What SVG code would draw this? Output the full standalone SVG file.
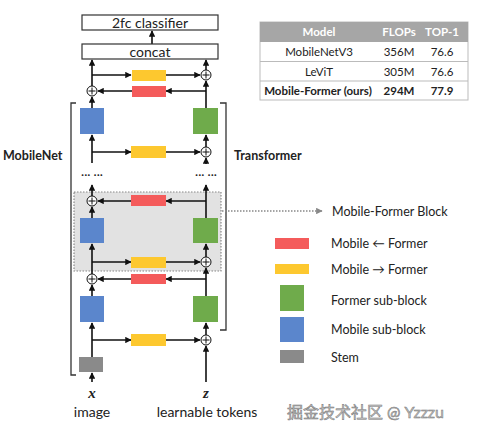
<svg xmlns="http://www.w3.org/2000/svg" width="489" height="436" viewBox="0 0 489 436">
<style>
text{font-family:Lato,"Liberation Sans","Noto Sans CJK SC",sans-serif;fill:#222}
.box{fill:#fff;stroke:#333;stroke-width:1.2}
.ln{stroke:#111;stroke-width:1.6;fill:none}
.arr{marker-end:url(#ah)}
.red{fill:#f45b5b}
.yel{fill:#fdc82f}
.grn{fill:#6fab4b}
.blu{fill:#5b86cc}
.stem{fill:#8a8a8a}
.plus circle{fill:#fff;stroke:#111;stroke-width:1}
.plus path{stroke:#111;stroke-width:1}
.t13{font-size:14px}
.lg{font-size:12.5px}
.tb{font-size:11.5px;text-anchor:middle}
</style>
<defs>
<marker id="ah" viewBox="0 0 10 10" refX="9" refY="5" markerWidth="4" markerHeight="4" orient="auto" markerUnits="strokeWidth">
<path d="M0,0 L10,5 L0,10 z" fill="#111"/>
</marker>
<marker id="ahg" viewBox="0 0 10 10" refX="9" refY="5" markerWidth="5" markerHeight="5" orient="auto" markerUnits="strokeWidth">
<path d="M0,0 L10,5 L0,10 z" fill="#888"/>
</marker>
<g id="pl" class="plus"><circle r="5"/><path d="M-3.5,0 H3.5 M0,-3.5 V3.5"/></g>
</defs>

<g id="mf-block">
<rect x="74" y="192" width="147" height="79" fill="#e2e2e2" stroke="#888" stroke-width="1.2" stroke-dasharray="1.5,1.5"/>
</g>

<g id="brackets">
<path d="M76,103 H71 V375 H76" fill="none" stroke="#333" stroke-width="1.3"/>
<path d="M220,103 H226 V330 H220" fill="none" stroke="#333" stroke-width="1.3"/>
</g>

<g id="connectors">
<line class="ln arr" x1="152" y1="44" x2="152" y2="31"/>
<line class="ln arr" x1="92" y1="86" x2="92" y2="60"/>
<line class="ln arr" x1="92" y1="75" x2="131" y2="75"/>
<line class="ln arr" x1="166" y1="75" x2="200" y2="75"/>
<line class="ln arr" x1="206" y1="70" x2="206" y2="60"/>
<line class="ln arr" x1="206" y1="108" x2="206" y2="81"/>
<line class="ln arr" x1="206" y1="91" x2="166" y2="91"/>
<line class="ln arr" x1="132" y1="91" x2="98" y2="91"/>
<line class="ln arr" x1="92" y1="108" x2="92" y2="97"/>
<line class="ln arr" x1="92" y1="163" x2="92" y2="135"/>
<line class="ln arr" x1="92" y1="152" x2="131" y2="152"/>
<line class="ln arr" x1="166" y1="152" x2="200" y2="152"/>
<line class="ln arr" x1="206" y1="147" x2="206" y2="135"/>
<line class="ln arr" x1="206" y1="164" x2="206" y2="158"/>
<line class="ln arr" x1="92" y1="196" x2="92" y2="185"/>
<line class="ln arr" x1="206" y1="218" x2="206" y2="185"/>
<line class="ln arr" x1="206" y1="201" x2="166" y2="201"/>
<line class="ln arr" x1="131" y1="201" x2="98" y2="201"/>
<line class="ln arr" x1="92" y1="218" x2="92" y2="207"/>
<line class="ln arr" x1="92" y1="274" x2="92" y2="244"/>
<line class="ln arr" x1="92" y1="262" x2="131" y2="262"/>
<line class="ln arr" x1="166" y1="262" x2="200" y2="262"/>
<line class="ln arr" x1="206" y1="257" x2="206" y2="244"/>
<line class="ln arr" x1="206" y1="296" x2="206" y2="268"/>
<line class="ln arr" x1="206" y1="279" x2="166" y2="279"/>
<line class="ln arr" x1="131" y1="279" x2="98" y2="279"/>
<line class="ln arr" x1="92" y1="296" x2="92" y2="285"/>
<line class="ln arr" x1="92" y1="357" x2="92" y2="323"/>
<line class="ln arr" x1="92" y1="340" x2="131" y2="340"/>
<line class="ln arr" x1="166" y1="340" x2="200" y2="340"/>
<line class="ln arr" x1="206" y1="335" x2="206" y2="323"/>
<line class="ln arr" x1="206" y1="382" x2="206" y2="346"/>
<line class="ln arr" x1="92" y1="382" x2="92" y2="373"/>
<line x1="222" y1="211" x2="322" y2="211" stroke="#888" stroke-width="1.3" stroke-dasharray="1.5,1.5" marker-end="url(#ahg)"/>
</g>

<g id="classifier"><rect class="box" x="82" y="15" width="136" height="15"/><text class="t13" x="150" y="27.5" text-anchor="middle">2fc classifier</text></g>
<g id="concat"><rect class="box" x="82" y="44" width="136" height="15"/><text class="t13" x="150" y="56.5" text-anchor="middle">concat</text></g>

<g id="top-m2f"><rect class="yel" x="132" y="70" width="34" height="11"/></g>
<g id="top-f2m"><rect class="red" x="132" y="86" width="34" height="11"/></g>
<g id="top-plus-l"><use href="#pl" x="92" y="91"/></g>
<g id="top-plus-r"><use href="#pl" x="206" y="75"/></g>

<g id="mobile1"><rect class="blu" x="80" y="108" width="24" height="26"/></g>
<g id="former1"><rect class="grn" x="193" y="108" width="25" height="26"/></g>
<g id="m2f-1"><rect class="yel" x="131" y="146" width="35" height="12"/></g>
<g id="plus1-r"><use href="#pl" x="206" y="152"/></g>

<g id="dots">
<text x="92" y="179" text-anchor="middle" font-size="12">··· ···</text>
<text x="206" y="179" text-anchor="middle" font-size="12">··· ···</text>
</g>

<g id="f2m-2"><rect class="red" x="131" y="195" width="35" height="11"/></g>
<g id="plus2-l"><use href="#pl" x="92" y="201"/></g>
<g id="mobile2"><rect class="blu" x="80" y="218" width="24" height="25"/></g>
<g id="former2"><rect class="grn" x="193" y="218" width="25" height="25"/></g>
<g id="m2f-2"><rect class="yel" x="131" y="257" width="35" height="11"/></g>
<g id="plus2-r"><use href="#pl" x="206" y="262"/></g>

<g id="f2m-3"><rect class="red" x="131" y="274" width="35" height="10"/></g>
<g id="plus3-l"><use href="#pl" x="92" y="279"/></g>
<g id="mobile3"><rect class="blu" x="80" y="296" width="24" height="26"/></g>
<g id="former3"><rect class="grn" x="193" y="296" width="25" height="26"/></g>
<g id="m2f-3"><rect class="yel" x="131" y="334" width="35" height="12"/></g>
<g id="plus3-r"><use href="#pl" x="206" y="340"/></g>
<g id="stem"><rect class="stem" x="79" y="357" width="24" height="15"/></g>

<g id="labels">
<text x="92" y="398" text-anchor="middle" style="font-family:'Liberation Serif',serif;font-style:italic;font-weight:bold;font-size:15px">x</text>
<text x="206" y="398" text-anchor="middle" style="font-family:'Liberation Serif',serif;font-style:italic;font-weight:bold;font-size:15px">z</text>
<text class="t13" x="92" y="417" text-anchor="middle">image</text>
<text class="t13" x="207" y="417" text-anchor="middle">learnable tokens</text>
<text x="3" y="160" font-size="12.5" font-weight="bold">MobileNet</text>
<text x="234" y="160" font-size="12.5" font-weight="bold">Transformer</text>
<text class="lg" x="332" y="216">Mobile-Former Block</text>
</g>

<g id="legend">
<rect class="red" x="275" y="238" width="34" height="11"/>
<text class="lg" x="331" y="248">Mobile ← Former</text>
<rect class="yel" x="275" y="264" width="34" height="10"/>
<text class="lg" x="331" y="274">Mobile → Former</text>
<rect class="grn" x="280" y="285" width="24" height="26"/>
<text class="lg" x="331" y="305">Former sub-block</text>
<rect class="blu" x="280" y="317" width="24" height="25"/>
<text class="lg" x="331" y="334">Mobile sub-block</text>
<rect class="stem" x="280" y="350" width="24" height="13"/>
<text class="lg" x="331" y="362">Stem</text>
</g>

<g id="table">
<rect x="260" y="22" width="208" height="78" fill="#fff" stroke="#bbb" stroke-width="1"/>
<rect x="260" y="22" width="208" height="20" fill="#a6a6a6"/>
<line x1="260" y1="61.5" x2="468" y2="61.5" stroke="#bbb"/>
<line x1="260" y1="81" x2="468" y2="81" stroke="#bbb"/>
<text class="tb" x="319" y="36" font-weight="bold" style="fill:#fff">Model</text>
<text class="tb" x="399" y="36" font-weight="bold" style="fill:#fff">FLOPs</text>
<text class="tb" x="442" y="36" font-weight="bold" style="fill:#fff">TOP-1</text>
<text class="tb" x="319" y="56">MobileNetV3</text>
<text class="tb" x="399" y="56">356M</text>
<text class="tb" x="442" y="56">76.6</text>
<text class="tb" x="319" y="75.5">LeViT</text>
<text class="tb" x="399" y="75.5">305M</text>
<text class="tb" x="442" y="75.5">76.6</text>
<text class="tb" x="318" y="95" font-weight="bold">Mobile-Former (ours)</text>
<text class="tb" x="399" y="95" font-weight="bold">294M</text>
<text class="tb" x="442" y="95" font-weight="bold">77.9</text>
</g>

<g id="watermark">
<text x="287" y="418" font-size="16" style="fill:#c4c4c4;stroke:#777;stroke-width:0.5">掘金技术社区 @ Yzzzu</text>
</g>
</svg>
